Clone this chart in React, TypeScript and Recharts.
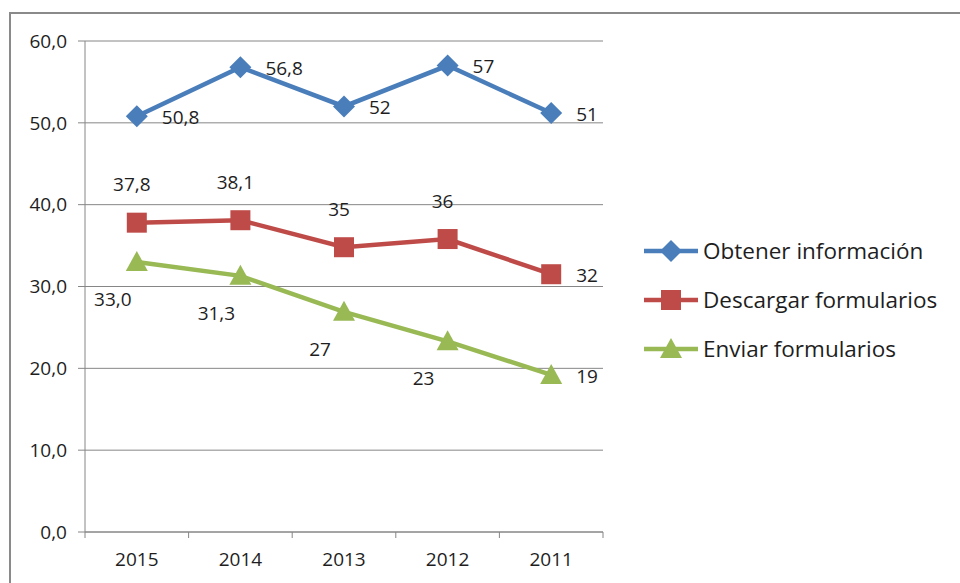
import React from 'react'
import { LineChart, Line, XAxis, YAxis, CartesianGrid, LabelList } from 'recharts'

const years = ['2015', '2014', '2013', '2012', '2011']
const obtener = [50.8, 56.8, 52.0, 57.0, 51.2]
const descargar = [37.8, 38.1, 34.8, 35.8, 31.5]
const enviar = [33.0, 31.3, 26.9, 23.3, 19.2]
const obtenerLabels = ['50,8', '56,8', '52', '57', '51']
const descargarLabels = ['37,8', '38,1', '35', '36', '32']
const enviarLabels = ['33,0', '31,3', '27', '23', '19']
const yTicks = [0, 10, 20, 30, 40, 50, 60]

const data = years.map((year, i) => ({
  year,
  obtener: obtener[i],
  descargar: descargar[i],
  enviar: enviar[i],
}))

const W = 960
const H = 583
const MARGIN = { top: 41, right: 357, bottom: 0, left: 0 }
const Y_AXIS_W = 85
const BAND = (W - Y_AXIS_W - MARGIN.right) / years.length
const FONT = '"Open Sans", sans-serif'
const TEXT = '#1e1e1e'
const AXIS = '#868686'

const BLUE = '#4a7ebb'
const RED = '#be4b48'
const GREEN = '#98b954'

type Shape = 'diamond' | 'square' | 'triangle'

function marker(shape: Shape, cx: number, cy: number, color: string, key?: any) {
  if (shape === 'diamond') {
    const r = 11
    return <path key={key} d={`M${cx},${cy - r}L${cx + r},${cy}L${cx},${cy + r}L${cx - r},${cy}Z`} fill={color} />
  }
  if (shape === 'square') {
    const s = 10
    return <rect key={key} x={cx - s} y={cy - s} width={s * 2} height={s * 2} fill={color} />
  }
  const r = 11
  return <path key={key} d={`M${cx},${cy - r}L${cx + r},${cy + 9}L${cx - r},${cy + 9}Z`} fill={color} />
}

const dotRenderer = (shape: Shape, color: string) => (p: any) =>
  marker(shape, p.cx, p.cy, color, `${shape}-${p.index}`)

// where each series puts its labels (last point always to the right)
const labelRenderer = (labels: string[], side: 'right' | 'above' | 'below') => (p: any) => {
  const { x, y, index } = p
  const last = index === labels.length - 1
  const common = { fontFamily: FONT, fontSize: 19, fill: TEXT }
  if (side === 'right' || last) {
    return (
      <text key={index} x={x + 25} y={y + 1} dy="0.35em" textAnchor="start" {...common}>
        {labels[index]}
      </text>
    )
  }
  if (side === 'above') {
    return (
      <text key={index} x={x - 5} y={y - 38} dy="0.35em" textAnchor="middle" {...common}>
        {labels[index]}
      </text>
    )
  }
  return (
    <text key={index} x={x - 24} y={y + 37} dy="0.35em" textAnchor="middle" {...common}>
      {labels[index]}
    </text>
  )
}

const XTick = (p: any) => {
  const { x, y, payload, index } = p
  return (
    <g>
      <line x1={x - BAND / 2} y1={y} x2={x - BAND / 2} y2={y + 6} stroke={AXIS} />
      {index === years.length - 1 && <line x1={x + BAND / 2} y1={y} x2={x + BAND / 2} y2={y + 6} stroke={AXIS} />}
      <text x={x} y={y + 27} dy="0.35em" textAnchor="middle" fontFamily={FONT} fontSize={19} fill={TEXT}>
        {payload.value}
      </text>
    </g>
  )
}

const legendItems: { name: string; color: string; shape: Shape }[] = [
  { name: 'Obtener información', color: BLUE, shape: 'diamond' },
  { name: 'Descargar formularios', color: RED, shape: 'square' },
  { name: 'Enviar formularios', color: GREEN, shape: 'triangle' },
]

const ChartLegend = () => (
  <svg width={320} height={150} style={{ position: 'absolute', left: 640, top: 230 }}>
    {legendItems.map((it, i) => {
      const cy = 21 + i * 49
      return (
        <g key={it.name}>
          <line x1={4} y1={cy} x2={58} y2={cy} stroke={it.color} strokeWidth={4.5} />
          {marker(it.shape, 31, cy, it.color)}
          <text x={63} y={cy} dy="0.35em" fontFamily={FONT} fontSize={22.5} fill={TEXT}>
            {it.name}
          </text>
        </g>
      )
    })}
  </svg>
)

export default function App() {
  return (
    <div style={{ position: 'absolute', left: 0, top: 0, width: W, height: H, overflow: 'hidden', background: '#fff' }}>
      <div
        style={{
          position: 'absolute',
          left: 9,
          top: 12,
          width: 1200,
          height: 1200,
          borderLeft: '2px solid #8a8a8a',
          borderTop: '2px solid #8a8a8a',
        }}
      />
      <div style={{ position: 'absolute', left: 0, top: 0 }}>
        <LineChart width={W} height={H} data={data} margin={MARGIN}>
          <CartesianGrid vertical={false} stroke={AXIS} strokeWidth={1} />
          <XAxis
            dataKey="year"
            stroke={AXIS}
            tickLine={false}
            tickSize={0}
            tickMargin={0}
            height={H - 532}
            padding={{ left: BAND / 2, right: BAND / 2 }}
            tick={<XTick />}
            interval={0}
          />
          <YAxis
            domain={[0, 60]}
            ticks={yTicks}
            width={Y_AXIS_W}
            stroke={AXIS}
            tickSize={7}
            tickMargin={11}
            tick={{ fontFamily: FONT, fontSize: 19, fill: TEXT }}
            tickFormatter={(v: number) => v.toFixed(1).replace('.', ',')}
          />
          <Line
            dataKey="obtener"
            stroke={BLUE}
            strokeWidth={4.5}
            dot={dotRenderer('diamond', BLUE)}
            activeDot={false}
            isAnimationActive={false}
          >
            <LabelList dataKey="obtener" content={labelRenderer(obtenerLabels, 'right')} />
          </Line>
          <Line
            dataKey="descargar"
            stroke={RED}
            strokeWidth={4.5}
            dot={dotRenderer('square', RED)}
            activeDot={false}
            isAnimationActive={false}
          >
            <LabelList dataKey="descargar" content={labelRenderer(descargarLabels, 'above')} />
          </Line>
          <Line
            dataKey="enviar"
            stroke={GREEN}
            strokeWidth={4.5}
            dot={dotRenderer('triangle', GREEN)}
            activeDot={false}
            isAnimationActive={false}
          >
            <LabelList dataKey="enviar" content={labelRenderer(enviarLabels, 'below')} />
          </Line>
        </LineChart>
      </div>
      <ChartLegend />
    </div>
  )
}
